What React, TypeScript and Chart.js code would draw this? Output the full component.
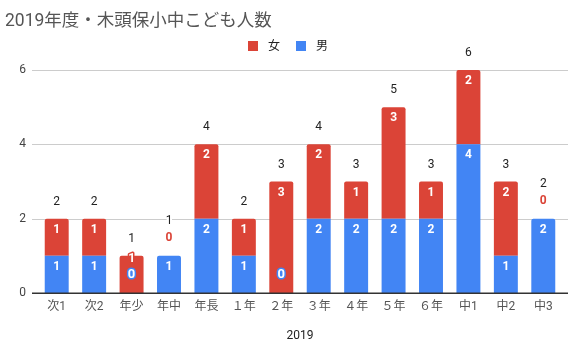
import React, { useEffect, useRef } from "react";
import { Chart, registerables } from "chart.js";

Chart.register(...registerables);

const TITLE = "2019年度・木頭保小中こども人数";
const X_TITLE = "2019";
const categories = ["次1", "次2", "年少", "年中", "年長", "１年", "２年", "３年", "４年", "５年", "６年", "中1", "中2", "中3"];
const female = [1, 1, 1, 0, 2, 1, 3, 2, 1, 3, 1, 2, 2, 0];
const male = [1, 1, 0, 1, 2, 1, 0, 2, 2, 2, 2, 4, 1, 2];
const yTicks = [0, 2, 4, 6];
const legendLabels = ["女", "男"];

const RED = "#db4437";
const BLUE = "#4285f4";
const FONT = "Roboto, 'Noto Sans CJK JP', sans-serif";

const customPlugin = {
  id: "customDraw",
  beforeDatasetsDraw(chart: any) {
    const { ctx, chartArea, scales } = chart;
    const y = scales.y;
    ctx.save();
    ctx.strokeStyle = "#cccccc";
    ctx.lineWidth = 1;
    yTicks.forEach((v) => {
      if (v === 0) return;
      const py = Math.round(y.getPixelForValue(v)) + 0.5;
      ctx.beginPath();
      ctx.moveTo(chartArea.left - 6, py);
      ctx.lineTo(chartArea.right + 6, py);
      ctx.stroke();
    });
    ctx.restore();
  },
  afterDatasetsDraw(chart: any) {
    const { ctx, chartArea, scales } = chart;
    const y = scales.y;
    ctx.save();
    // baseline
    const by = y.getPixelForValue(0);
    ctx.strokeStyle = "#333333";
    ctx.lineWidth = 1.5;
    ctx.beginPath();
    ctx.moveTo(chartArea.left - 6, by + 0.25);
    ctx.lineTo(chartArea.right + 6, by + 0.25);
    ctx.stroke();

    // title
    ctx.font = `17.5px ${FONT}`;
    ctx.fillStyle = "#555555";
    ctx.textAlign = "left";
    ctx.textBaseline = "alphabetic";
    ctx.fillText(TITLE, 5, 26);

    // legend
    ctx.font = `12px ${FONT}`;
    ctx.textBaseline = "middle";
    const colors = [RED, BLUE];
    let lx = 248;
    legendLabels.forEach((lab, i) => {
      ctx.fillStyle = colors[i];
      ctx.fillRect(lx, 41, 10, 10);
      ctx.fillStyle = "#222222";
      ctx.fillText(lab, lx + 20, 46.5);
      lx += 48;
    });

    // value labels
    const mMeta = chart.getDatasetMeta(0);
    ctx.textAlign = "center";
    ctx.lineJoin = "round";
    categories.forEach((_, i) => {
      const x = mMeta.data[i].x;
      const base = y.getPixelForValue(0);
      const top = y.getPixelForValue(male[i] + female[i]);
      let totalY = top - 17;
      ctx.font = `bold 12px ${FONT}`;
      // male
      if (male[i] > 0) {
        ctx.fillStyle = "#ffffff";
        ctx.fillText(String(male[i]), x, y.getPixelForValue(male[i]) + 11);
      } else {
        ctx.font = `bold 13px ${FONT}`;
        ctx.strokeStyle = BLUE;
        ctx.lineWidth = 3;
        ctx.strokeText("0", x, base - 18);
        ctx.fillStyle = "#ffffff";
        ctx.fillText("0", x, base - 18);
        ctx.font = `bold 12px ${FONT}`;
      }
      // female
      if (female[i] > 0) {
        let fy = top + 11;
        if (male[i] === 0) fy = Math.min(fy, base - 18 - 16);
        ctx.strokeStyle = RED;
        ctx.lineWidth = 3;
        ctx.strokeText(String(female[i]), x, fy);
        ctx.fillStyle = "#ffffff";
        ctx.fillText(String(female[i]), x, fy);
      } else {
        ctx.strokeStyle = "#ffffff";
        ctx.lineWidth = 4;
        ctx.strokeText("0", x, top - 18);
        ctx.fillStyle = RED;
        ctx.fillText("0", x, top - 18);
        totalY = top - 35;
      }
      // total
      ctx.font = `12px ${FONT}`;
      ctx.strokeStyle = "#ffffff";
      ctx.lineWidth = 4;
      const t = String(male[i] + female[i]);
      ctx.strokeText(t, x, totalY);
      ctx.fillStyle = "#222222";
      ctx.fillText(t, x, totalY);
    });
    ctx.restore();
  },
};

export default function App() {
  const ref = useRef<HTMLCanvasElement>(null);
  useEffect(() => {
    if (!ref.current) return;
    const chart = new Chart(ref.current, {
      type: "bar",
      data: {
        labels: categories,
        datasets: [
          {
            label: legendLabels[1],
            data: male,
            backgroundColor: BLUE,
            borderSkipped: "start",
            borderRadius: (c: any) => (female[c.dataIndex] === 0 ? 2 : 0),
          },
          {
            label: legendLabels[0],
            data: female,
            backgroundColor: RED,
            borderSkipped: "start",
            borderRadius: 2,
          },
        ],
      },
      options: {
        responsive: false,
        animation: false,
        layout: { padding: { top: 70, right: 17, left: 0, bottom: 0 } },
        plugins: {
          legend: { display: false },
          title: { display: false },
          tooltip: { enabled: false },
        },
        datasets: { bar: { categoryPercentage: 1, barPercentage: 0.64 } },
        scales: {
          x: {
            stacked: true,
            grid: { display: false, drawTicks: false },
            border: { display: false },
            ticks: { color: "#555555", font: { size: 12, family: FONT }, padding: 7, maxRotation: 0, autoSkip: false },
            title: { display: true, text: X_TITLE, color: "#222222", font: { size: 12, family: FONT }, padding: { top: 4, bottom: 6 } },
            afterFit: (s: any) => { s.height = 56; },
          },
          y: {
            stacked: true,
            min: 0,
            max: 6,
            grid: { display: false, drawTicks: false },
            border: { display: false },
            ticks: { stepSize: 2, color: "#444444", font: { size: 12, family: FONT }, padding: 12 },
            afterFit: (s: any) => { s.width = 38; },
          },
        },
      },
      plugins: [customPlugin],
    } as any);
    return () => chart.destroy();
  }, []);
  return (
    <div style={{ position: "fixed", left: 0, top: 0, width: 579, height: 349 }}>
      <canvas ref={ref} width={579} height={349} style={{ display: "block" }} />
    </div>
  );
}
